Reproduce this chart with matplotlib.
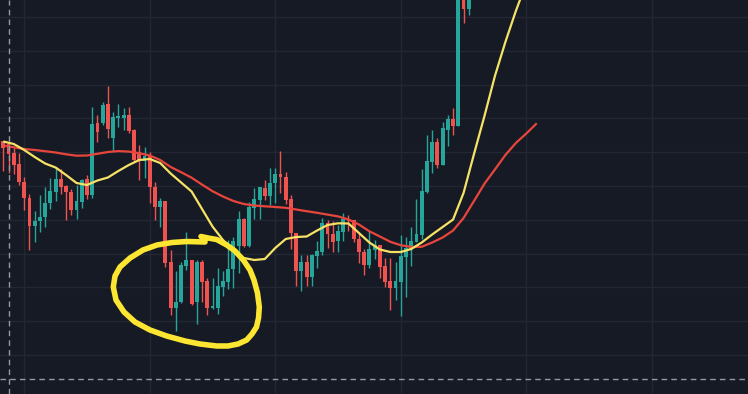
import numpy as np
import matplotlib
matplotlib.use("Agg")
import matplotlib.pyplot as plt

# ---- data (price units are arbitrary; chart has no axis labels) ----
opens = [259, 256, 247, 236, 218.5, 202, 174, 179, 183, 197,
         208, 221, 214, 208, 190, 198, 221, 205, 277, 277,
         296, 262, 282.5, 282.5, 285, 270, 248, 239, 245, 213,
         193, 199, 138, 92, 98, 134, 140, 98, 138, 119,
         92, 92, 113, 118, 131, 154, 181, 154, 192, 200,
         212, 204, 217, 226, 223, 201, 167, 129, 138, 123,
         144, 148, 177, 166, 159, 168, 181, 180, 161, 148,
         135, 150, 155, 134, 119, 112, 118, 143, 151, 158,
         165, 208, 238, 258, 235, 270, 281, 274, 415, 391]
closes = [252.5, 246, 235.5, 218.5, 202, 174, 179, 183, 197, 209,
          221, 213, 208, 190, 199, 220, 205, 276, 268, 295,
          271, 283, 283.5, 285, 269, 240, 240, 244, 213, 193,
          199, 137, 92, 98, 135, 140, 96, 138, 118, 92,
          94, 114, 119, 131, 159, 181, 154, 193, 201, 213,
          204, 217, 226, 223, 200, 167, 129, 138, 123, 145,
          149, 177, 166, 158, 169, 181, 179.5, 161, 148, 135,
          151, 155, 133, 118, 112, 119, 144, 152, 159, 166,
          209, 239, 258, 235, 272, 281, 274, 420, 391, 412]
highs = [259, 258, 252, 247, 223, 206, 189, 205, 213, 222,
         233, 231.5, 215, 211, 215, 221, 225, 293, 285, 298,
         314, 288, 296, 292, 293, 271, 255, 253, 248, 218,
         202, 199, 150, 129, 138, 168, 140, 140, 140, 122,
         122, 132, 129, 160, 163, 189, 182, 198, 212, 213,
         220, 232, 232, 249, 228, 205, 167, 145, 145, 146,
         159, 182, 180, 179, 175, 187, 185, 180, 166, 151,
         169, 160, 155, 142, 142, 138, 165, 163, 173, 201,
         231, 265, 270, 262, 278, 285, 292, 428, 425, 418]
lows = [229.5, 227, 226, 215, 190, 150, 158.5, 168, 173, 191,
        199, 206, 180, 185, 181, 192, 201, 202, 258, 275,
        262, 249, 273, 270, 267, 238, 220, 222, 197, 180,
        173, 133, 85, 69, 97, 130, 95, 76, 98, 85,
        91, 86, 104, 111, 112, 127, 153, 153, 181, 181,
        200, 195, 197, 207, 196, 151, 114, 109, 114, 114,
        132, 145, 152, 148, 148, 159, 169, 158, 137, 125,
        132, 141, 122, 113, 90, 100, 84, 103, 134, 158,
        161, 207, 227, 232, 235, 254, 265, 274, 377, 385]

# moving averages, read every second bar
ma_idx = list(range(0, 103, 2))
ma_fast = [258.5, 256, 250, 243, 236.5, 232.5, 225, 217, 215, 219.5,
           222.5, 229, 235, 240, 241, 237, 226.5, 217.5, 208.5, 191,
           173.5, 160, 150, 142, 140, 141, 152, 161, 163, 163.5,
           169.5, 175, 176.7, 176.5, 167, 157.5, 150.5, 148, 148, 151,
           157.5, 165.5, 173, 180.5, 207, 246, 284, 324, 358, 389,
           417, 445]
ma_slow = [254.5, 252.7, 251, 250, 248.8, 247.5, 245.7, 244.3, 244.5, 246.2,
           248, 248.9, 248.4, 246.8, 244.5, 240, 233, 227.8, 222.3, 215.4,
           208.8, 203.5, 199, 196, 194.5, 193.7, 193, 192.2, 190.5, 188.8,
           187.2, 185.4, 183.6, 180.5, 175.5, 168.7, 163.5, 158.2, 154.8, 153,
           153.2, 157.5, 162.5, 169.5, 182, 199, 216.3, 230.5, 245, 257,
           266.5, 276.7]

# hand-drawn highlight loop (bar index, price)
loop_x = [37.80, 39.14, 40.80, 42.72, 44.30, 45.89, 47.17, 47.93, 48.60, 48.95,
          48.80, 48.41, 47.55, 46.54, 44.88, 42.96, 40.80, 37.61, 34.74, 31.24,
          28.05, 25.18, 23.08, 21.55, 21.03, 21.36, 22.31, 24.23, 26.71, 29.39,
          32.26, 35.12, 38.57]
loop_y = [163.5, 162, 160.5, 155, 149, 140, 130, 120, 107, 93,
          82, 73, 66, 60, 56, 54, 54, 56, 59, 64,
          70, 78, 88, 100, 113, 124, 133, 142, 150, 155,
          157.5, 158.5, 158]

cross_bar = 1
cross_price = 21

# ---- styling ----
BG = "#161a25"
GRID = "#232733"
UP = "#26a69a"
DOWN = "#ef5350"

fig = plt.figure(figsize=(7.48, 3.94), dpi=100, facecolor=BG)
ax = fig.add_axes([0, 0, 1, 1], facecolor=BG)

x = np.arange(len(opens))
o = np.array(opens, float)
c = np.array(closes, float)
h = np.array(highs, float)
l = np.array(lows, float)
up = c >= o
colors = np.where(up, UP, DOWN)

ax.vlines(x, l, h, colors=colors, linewidth=1.0, zorder=2)
bottom = np.minimum(o, c)
height = np.maximum(np.abs(c - o), 1.2)
ax.bar(x, height, bottom=bottom, width=0.74, color=colors, linewidth=0, zorder=3)

ax.plot(ma_idx, ma_slow, color="#e8453c", linewidth=1.6, zorder=4,
        solid_capstyle="butt", solid_joinstyle="round")
ax.plot(ma_idx, ma_fast, color="#f6e265", linewidth=1.6, zorder=5,
        solid_capstyle="butt", solid_joinstyle="round")

ax.plot(loop_x, loop_y, color="#fce632", linewidth=4.0, zorder=6,
        solid_capstyle="round", solid_joinstyle="round")

ax.axvline(cross_bar, color="#9598a1", linewidth=1.0, linestyle=(0, (4, 3)), zorder=7)
ax.axhline(cross_price, color="#9598a1", linewidth=1.0, linestyle=(0, (4, 3)), zorder=7)

ax.set_xlim(-0.631, 142.39)
ax.set_ylim(6, 400)
ax.set_xticks(np.arange(4, 142, 24))
ax.set_yticks(np.arange(45, 400, 33.8))
ax.grid(True, color=GRID, linewidth=1.0, zorder=0)
ax.set_axisbelow(True)
ax.tick_params(length=0, labelbottom=False, labelleft=False)
for s in ax.spines.values():
    s.set_visible(False)

fig.savefig("out.png", dpi=100, facecolor=BG)
